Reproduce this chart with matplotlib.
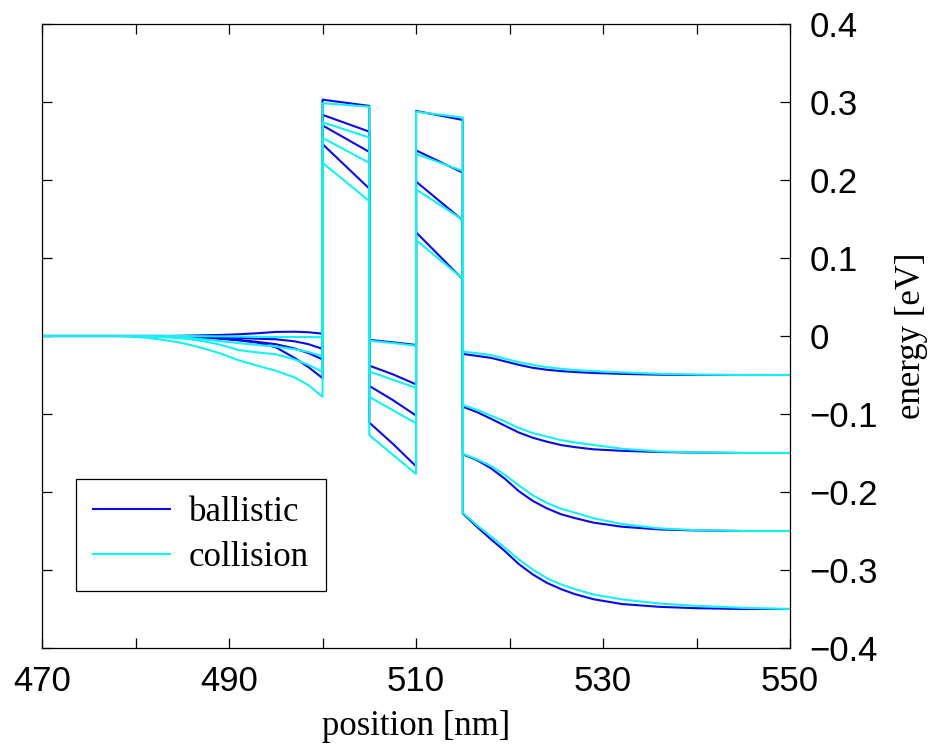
import numpy as np
import matplotlib
matplotlib.use("Agg")
import matplotlib.pyplot as plt

# conduction band offset of the two AlGaAs barriers [eV]
BARRIER = 0.3

# barrier edges [nm]
b1_start, b1_end = 500.0, 505.0
b2_start, b2_end = 510.0, 515.0

# sample positions [nm] in emitter, well and collector
x_left = [470, 478, 481, 483, 485, 487, 489, 491, 493, 495, 497, 498.5, 500]
x_well = [505, 507.5, 510]
x_right = [515, 516.5, 518, 519.5, 521, 522.5, 524, 525.5, 527, 529, 532, 536, 540, 545, 550]

# electrostatic potential [eV], one row per bias point
ball_left = [
    [0, 0, 0, 0, 0.0003, 0.0008, 0.0013, 0.0022, 0.0035, 0.0052, 0.0055, 0.0048, 0.003],
    [0, 0, 0, 0, -0.0003, -0.0008, -0.0015, -0.0025, -0.0035, -0.0042, -0.0068, -0.0105, -0.0165],
    [0, 0, 0, 0, -0.0005, -0.0015, -0.003, -0.005, -0.0075, -0.0105, -0.016, -0.022, -0.030],
    [0, 0, 0, 0, -0.0008, -0.002, -0.0035, -0.0055, -0.0085, -0.0145, -0.028, -0.040, -0.054],
]
coll_left = [
    [0, 0, 0, 0, 0, -0.0003, -0.0005, -0.0008, -0.001, -0.0012, -0.0013, -0.0014, -0.0016],
    [0, 0, 0, -0.0008, -0.0017, -0.004, -0.0065, -0.009, -0.0115, -0.0135, -0.017, -0.0205, -0.026],
    [0, 0, -0.0005, -0.0015, -0.003, -0.006, -0.011, -0.018, -0.021, -0.0235, -0.030, -0.037, -0.046],
    [0, 0, -0.002, -0.005, -0.009, -0.015, -0.022, -0.031, -0.038, -0.0445, -0.053, -0.063, -0.078],
]
ball_well = [
    [-0.005, -0.008, -0.0115],
    [-0.038, -0.049, -0.062],
    [-0.064, -0.082, -0.102],
    [-0.111, -0.138, -0.167],
]
coll_well = [
    [-0.006, -0.009, -0.0125],
    [-0.0455, -0.056, -0.0665],
    [-0.078, -0.095, -0.112],
    [-0.127, -0.152, -0.177],
]
ball_right = [
    [-0.023, -0.0255, -0.028, -0.0325, -0.037, -0.0408, -0.0433, -0.045, -0.0462, -0.0474, -0.0486, -0.0496, -0.050, -0.050, -0.050],
    [-0.0906, -0.0975, -0.106, -0.115, -0.1238, -0.1305, -0.1355, -0.1398, -0.1425, -0.1453, -0.1472, -0.1487, -0.1495, -0.150, -0.150],
    [-0.1517, -0.159, -0.1695, -0.183, -0.199, -0.2115, -0.221, -0.2285, -0.2335, -0.2393, -0.2445, -0.248, -0.2493, -0.250, -0.250],
    [-0.2274, -0.2445, -0.2605, -0.2758, -0.2925, -0.3058, -0.3165, -0.3245, -0.331, -0.3375, -0.3436, -0.3472, -0.349, -0.350, -0.350],
]
coll_right = [
    [-0.020, -0.022, -0.0245, -0.029, -0.0335, -0.037, -0.040, -0.042, -0.0437, -0.045, -0.0467, -0.0485, -0.0495, -0.050, -0.050],
    [-0.0885, -0.0945, -0.102, -0.1095, -0.118, -0.1245, -0.129, -0.1335, -0.1365, -0.1397, -0.1445, -0.148, -0.1493, -0.150, -0.150],
    [-0.151, -0.158, -0.1665, -0.178, -0.1915, -0.2045, -0.214, -0.2215, -0.2265, -0.2337, -0.241, -0.2466, -0.249, -0.250, -0.250],
    [-0.2265, -0.2425, -0.2568, -0.2715, -0.2865, -0.2995, -0.3105, -0.3185, -0.3245, -0.3315, -0.3376, -0.343, -0.346, -0.3485, -0.350],
]


def band_profile(left, well, right):
    # potential plus barrier offset; barriers are linear between their edges
    xs = np.concatenate([x_left, [b1_start, b1_end], x_well, [b2_start, b2_end], x_right])
    ys = np.concatenate([
        left,
        [left[-1] + BARRIER, well[0] + BARRIER],
        well,
        [well[-1] + BARRIER, right[0] + BARRIER],
        right,
    ])
    return xs, ys


sans = ['Liberation Sans', 'DejaVu Sans']
serif = ['Liberation Serif', 'DejaVu Serif']
plt.rcParams['font.family'] = sans
plt.rcParams['font.size'] = 25

fig = plt.figure(figsize=(9.3, 7.45), dpi=100)
ax = fig.add_axes([0.0452, 0.1302, 0.8043, 0.8376])

blue = '#0a0ae6'
cyan = '#12f2f2'

for i in range(len(ball_left)):
    xs, ys = band_profile(ball_left[i], ball_well[i], ball_right[i])
    ax.plot(xs, ys, color=blue, lw=1.5, label='ballistic' if i == 0 else None)
for i in range(len(coll_left)):
    xs, ys = band_profile(coll_left[i], coll_well[i], coll_right[i])
    ax.plot(xs, ys, color=cyan, lw=1.5, label='collision' if i == 0 else None)

ax.set_xlim(470, 550)
ax.set_ylim(-0.4, 0.4)
ax.set_xticks(np.arange(470, 551, 20))
ax.set_xticks(np.arange(480, 541, 20), minor=True)
ax.set_yticks(np.round(np.arange(-0.4, 0.41, 0.1), 1))
ax.set_yticklabels(['\u22120.4', '\u22120.3', '\u22120.2', '\u22120.1', '0', '0.1', '0.2', '0.3', '0.4'])

ax.tick_params(which='both', direction='in', length=7, width=0.9,
               top=True, right=True, left=True, bottom=True,
               labelleft=False, labelright=True)
ax.tick_params(axis='x', pad=12)
ax.tick_params(axis='y', pad=14)
for s in ax.spines.values():
    s.set_linewidth(0.9)

ax.set_xlabel('position [nm]', family=serif, fontsize=25, labelpad=9)
ax.yaxis.set_label_position('right')
ax.set_ylabel('energy [eV]', family=serif, fontsize=25, labelpad=12)

leg = ax.legend(loc='lower left', bbox_to_anchor=(0.0455, 0.0913), borderaxespad=0,
                fancybox=False, framealpha=1, edgecolor='black',
                prop={'family': serif, 'size': 25},
                handlelength=2.2, handletextpad=0.55, labelspacing=0.33, borderpad=0.5)
leg.get_frame().set_linewidth(0.9)

fig.savefig('out.png', dpi=100)
